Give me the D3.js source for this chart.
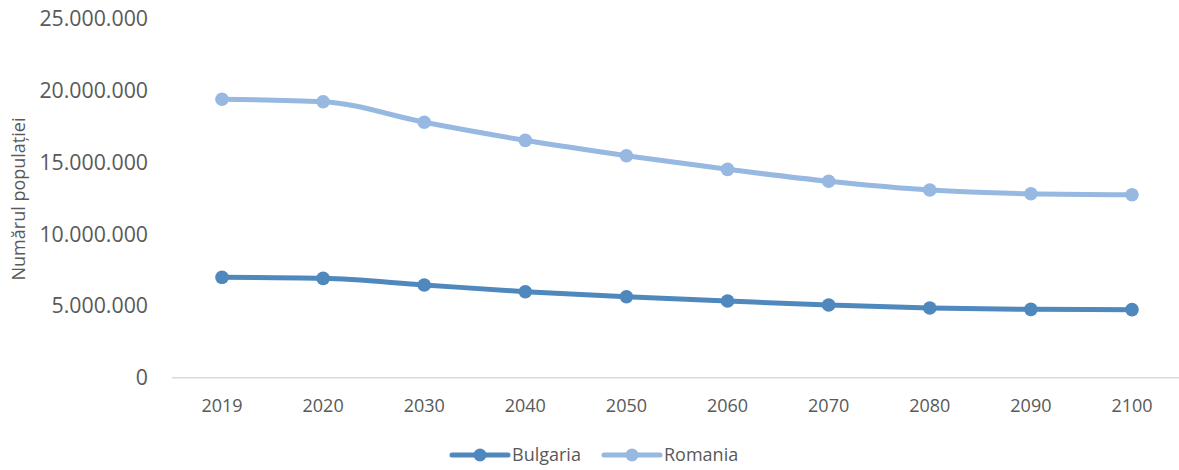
<!DOCTYPE html>
<html>
<head>
<meta charset="utf-8">
<script src="https://cdn.jsdelivr.net/npm/d3@7"></script>
<style>
  body { margin: 0; background: #fff; }
  text { font-family: "Open Sans", "Noto Sans", sans-serif; fill: #595959; }
</style>
</head>
<body>
<svg id="chart" width="1179" height="470"></svg>
<script>
const years = ["2019", "2020", "2030", "2040", "2050", "2060", "2070", "2080", "2090", "2100"];
const bulgaria = [6990000, 6920000, 6460000, 5990000, 5640000, 5340000, 5060000, 4850000, 4760000, 4740000];
const romania = [19390000, 19220000, 17790000, 16530000, 15460000, 14510000, 13680000, 13070000, 12810000, 12740000];
const yTicks = [0, 5000000, 10000000, 15000000, 20000000, 25000000];
const seriesNames = ["Bulgaria", "Romania"];
const seriesColors = ["#4f88bd", "#97b8e0"];

const svg = d3.select("#chart");

const x = d3.scalePoint().domain(years).range([222, 1132]);
const y = d3.scaleLinear().domain([0, 25000000]).range([377.7, 18.7]);

// 千位用點分隔
const fmt = d3.formatLocale({ decimal: ",", thousands: ".", grouping: [3], currency: ["", ""] }).format(",d");

// y 軸刻度文字
svg.append("g")
    .selectAll("text")
    .data(yTicks)
    .enter()
    .append("text")
    .attr("x", 148)
    .attr("y", d => y(d))
    .attr("dy", "0.35em")
    .style("text-anchor", "end")
    .style("font-size", "21.3px")
    .text(d => fmt(d));

// 底線
svg.append("line")
    .attr("x1", 172).attr("x2", 1179)
    .attr("y1", y(0)).attr("y2", y(0))
    .style("stroke", "#d9d9d9")
    .style("stroke-width", 1.5);

// x 軸刻度文字
svg.append("g")
    .selectAll("text")
    .data(years)
    .enter()
    .append("text")
    .attr("x", d => x(d))
    .attr("y", 406)
    .attr("dy", "0.35em")
    .style("text-anchor", "middle")
    .style("font-size", "18px")
    .text(d => d);

// y 軸標題
svg.append("text")
    .attr("transform", "translate(19,199) rotate(-90)")
    .attr("dy", "0.35em")
    .style("text-anchor", "middle")
    .style("font-size", "18px")
    .text("Numărul populației");

const line = d3.line()
    .x((d, i) => x(years[i]))
    .y(d => y(d))
    .curve(d3.curveMonotoneX);

[bulgaria, romania].forEach((values, k) => {
    svg.append("path")
        .datum(values)
        .attr("d", line)
        .style("fill", "none")
        .style("stroke", seriesColors[k])
        .style("stroke-width", 5)
        .style("stroke-linejoin", "round");
    svg.append("g")
        .selectAll("circle")
        .data(values)
        .enter()
        .append("circle")
        .attr("cx", (d, i) => x(years[i]))
        .attr("cy", d => y(d))
        .attr("r", 6.8)
        .style("fill", seriesColors[k]);
});

// 圖例
const legendX = [452, 604];
seriesNames.forEach((name, k) => {
    const g = svg.append("g").attr("transform", `translate(${legendX[k]},455)`);
    g.append("line")
        .attr("x1", 0).attr("x2", 56)
        .style("stroke", seriesColors[k])
        .style("stroke-width", 5)
        .style("stroke-linecap", "round");
    g.append("circle").attr("cx", 28).attr("r", 6.5).style("fill", seriesColors[k]);
    g.append("text")
        .attr("x", 60)
        .attr("dy", "0.35em")
        .style("font-size", "18px")
        .text(name);
});
</script>
</body>
</html>
